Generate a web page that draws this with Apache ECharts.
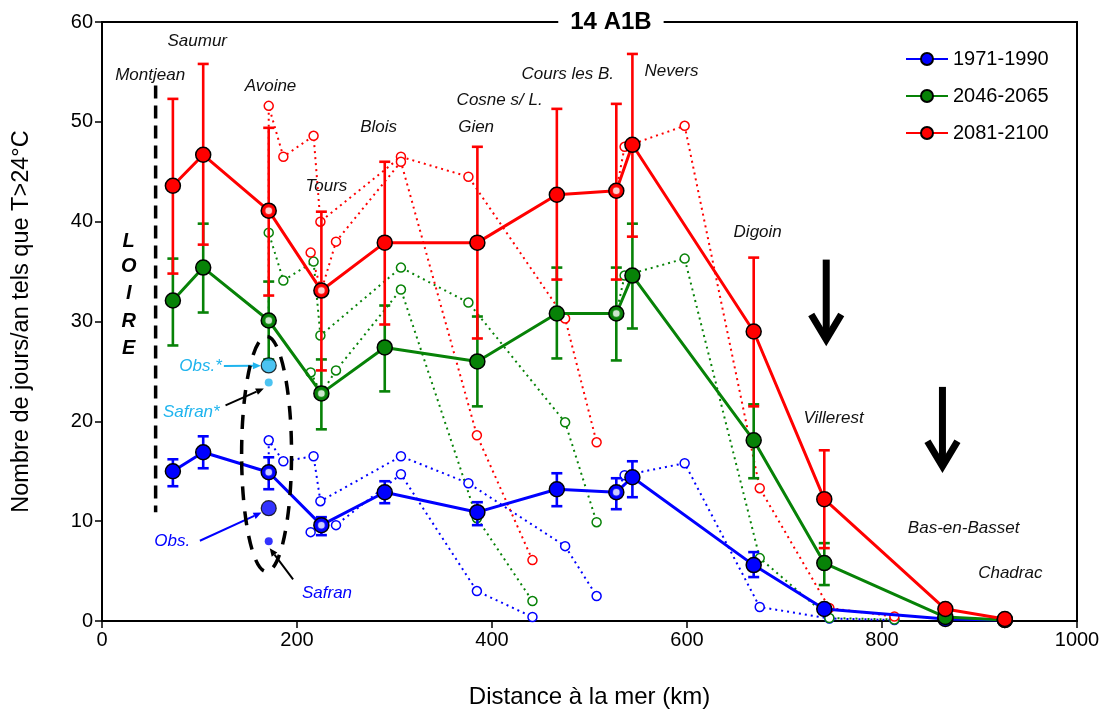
<!DOCTYPE html>
<html><head><meta charset="utf-8">
<script src="https://cdn.jsdelivr.net/npm/echarts@6/dist/echarts.min.js"></script>
<style>html,body{margin:0;padding:0;background:#fff}#c{width:1110px;height:715px}</style>
</head><body><div id="c"></div>
<script>
// ---- data ----
const stationNames = ['Montjean','Saumur','Avoine','Tours','Blois','Gien','Cours les B.','Cosne s/ L.','Nevers','Digoin','Villerest','Bas-en-Basset','Chadrac'];
const dist   = [72.7, 103.8, 171, 225, 290, 385, 466.5, 527.5, 544, 668.4, 740.8, 865, 926];
const blue   = [15.0, 16.9, 14.9, 9.6, 12.9, 10.9, 13.2, 12.9, 14.4, 5.6, 1.2, 0.2, 0.1];
const blueLo = [13.5, 15.3, 13.2, 8.6, 11.8, 9.6, 11.5, 11.2, 12.4, 4.4, null, null, null];
const blueHi = [16.2, 18.5, 16.4, 10.4, 14.0, 11.9, 14.8, 14.3, 16.0, 6.9, null, null, null];
const green   = [32.1, 35.4, 30.1, 22.8, 27.4, 26.0, 30.8, 30.8, 34.6, 18.1, 5.8, 0.4, 0.1];
const greenLo = [27.6, 30.9, 26.2, 19.2, 23.0, 21.5, 26.3, 26.1, 29.3, 14.3, 3.6, null, null];
const greenHi = [36.3, 39.8, 34.0, 26.2, 31.6, 30.5, 35.4, 35.4, 39.8, 21.7, 7.8, null, null];
const red   = [43.6, 46.7, 41.1, 33.1, 37.9, 37.9, 42.7, 43.1, 47.7, 29.0, 12.2, 1.2, 0.2];
const redLo = [34.8, 37.7, 32.6, 25.1, 29.7, 28.3, 34.2, 34.2, 38.5, 21.5, 7.3, null, null];
const redHi = [52.3, 55.8, 49.4, 41.0, 46.0, 47.5, 51.3, 51.8, 56.8, 36.4, 17.1, null, null];
const confluenceIdx = [2, 3, 7];

// tributary A (from Avoine)
const tribADist = [171, 186, 217, 224, 306.6, 375.8, 475, 507.3];
const tribABlue = [18.1, 16.0, 16.5, 12.0, 16.5, 13.8, 7.5, 2.5];
const tribAGreen = [38.9, 34.1, 36.0, 28.6, 35.4, 31.9, 19.9, 9.9];
const tribARed = [51.6, 46.5, 48.6, 40.0, 46.5, 44.5, 30.3, 17.9];
// tributary B (through Tours)
const tribBDistBefore = [214];
const tribBDistAfter = [240, 306.6, 384.5, 441.5];
const tribBBlue = [[8.9], [9.6, 14.7, 3.0, 0.4]];
const tribBGreen = [[24.9], [25.1, 33.2, 10.3, 2.0]];
const tribBRed = [[36.9], [38.0, 46.0, 18.6, 6.1]];
// tributary C (from km 527)
const tribCDist = [536, 597.6, 674.6, 746, 812.7];
const tribCBlue = [14.6, 15.8, 1.4, 0.25, 0.1];
const tribCGreen = [34.6, 36.3, 6.3, 0.3, 0.15];
const tribCRed = [47.5, 49.6, 13.3, 1.3, 0.45];

// observations at Avoine
const obsDist = 171;
const obsStar = 25.6, safranStar = 23.9, obsVal = 11.3, safranVal = 8.0;

const xTicks = [0, 200, 400, 600, 800, 1000];
const yTicks = [0, 10, 20, 30, 40, 50, 60];

// ---- styles ----
const C = {blue:'#0000ff', green:'#078207', red:'#ff0000', cyan:'#1fb4ee'};
const FONT = 'Liberation Sans';

const chart = echarts.init(document.getElementById('c'));

function mainSeries(name, vals, color){
  return {name, type:'line', data: dist.map((d,i)=>[d, vals[i]]), symbol:'circle', symbolSize:15,
    lineStyle:{color, width:3}, itemStyle:{color, borderColor:'#000', borderWidth:1.5}, z:5};
}
function errSeries(lo, hi, color){
  const data = dist.map((d,i)=> hi[i]==null? null : [d, lo[i], hi[i]]).filter(Boolean);
  return {type:'custom', data, z:4, silent:true,
    renderItem:function(params, api){
      const x = api.value(0), l = api.value(1), h = api.value(2);
      const a = api.coord([x,h]), b = api.coord([x,l]), w = 5.5;
      const st = {stroke:color, lineWidth:2.6};
      return {type:'group', children:[
        {type:'line', shape:{x1:a[0],y1:a[1],x2:b[0],y2:b[1]}, style:st},
        {type:'line', shape:{x1:a[0]-w,y1:a[1],x2:a[0]+w,y2:a[1]}, style:st},
        {type:'line', shape:{x1:b[0]-w,y1:b[1],x2:b[0]+w,y2:b[1]}, style:st}
      ]};
    }};
}
function tribSeries(points, color){
  return {type:'line', data: points, symbol:'circle', symbolSize:9, showSymbol:true,
    lineStyle:{color, width:2, type:[2,4]},
    itemStyle:{color:'#fff', borderColor:color, borderWidth:1.5}, z:2, silent:true};
}
function tribs(mainVals, A, B, Cc, color){
  const ptsA = [{value:[dist[2], mainVals[2]], symbol:'none'}].concat(tribADist.map((d,i)=>[d, A[i]]));
  const ptsB = tribBDistBefore.map((d,i)=>[d, B[0][i]])
    .concat([{value:[dist[3], mainVals[3]], symbol:'none'}])
    .concat(tribBDistAfter.map((d,i)=>[d, B[1][i]]));
  const ptsC = [{value:[dist[7], mainVals[7]], symbol:'none'}].concat(tribCDist.map((d,i)=>[d, Cc[i]]));
  return [tribSeries(ptsA,color), tribSeries(ptsB,color), tribSeries(ptsC,color)];
}
function ringSeries(vals, color){
  return {type:'scatter', data: confluenceIdx.map(i=>[dist[i], vals[i]]), symbol:'circle', symbolSize:8,
    itemStyle:{color:'#fff', borderColor:color, borderWidth:1.5}, z:6, silent:true};
}

const series = [].concat(
  tribs(blue, tribABlue, tribBBlue, tribCBlue, C.blue),
  tribs(green, tribAGreen, tribBGreen, tribCGreen, C.green),
  tribs(red, tribARed, tribBRed, tribCRed, C.red),
  [errSeries(blueLo, blueHi, C.blue), errSeries(greenLo, greenHi, C.green), errSeries(redLo, redHi, C.red)],
  [mainSeries('1971-1990', blue, C.blue), mainSeries('2046-2065', green, C.green), mainSeries('2081-2100', red, C.red)],
  [ringSeries(blue, C.blue), ringSeries(green, C.green), ringSeries(red, C.red)],
  [{type:'scatter', z:7, silent:true, data:[
     {value:[obsDist, obsStar], symbolSize:15, itemStyle:{color:C.cyan, borderColor:'#000', borderWidth:1.2}},
     {value:[obsDist, safranStar], symbolSize:8, itemStyle:{color:C.cyan}},
     {value:[obsDist, obsVal], symbolSize:15, itemStyle:{color:C.blue, borderColor:'#000', borderWidth:1.2}},
     {value:[obsDist, safranVal], symbolSize:8, itemStyle:{color:C.blue}}
  ]}]
);

function axisCommon(nameSize){ return {
  axisLine:{show:true, lineStyle:{color:'#000', width:2}},
  axisTick:{show:true, inside:false, length:7, lineStyle:{color:'#000', width:1.5}},
  splitLine:{show:false},
  axisLabel:{color:'#000', fontSize:20, fontFamily:FONT, margin:9, formatter:(v)=>String(v)},
  nameTextStyle:{color:'#000', fontSize:nameSize, fontFamily:FONT}
};}

chart.setOption({
  animation:false,
  backgroundColor:'#fff',
  grid:{left:102, right:33, top:22, bottom:94, show:true, borderColor:'#000', borderWidth:2, backgroundColor:'transparent'},
  xAxis: Object.assign({type:'value', min:xTicks[0], max:xTicks[xTicks.length-1], interval:200,
    name:'Distance à la mer (km)', nameLocation:'middle', nameGap:64}, axisCommon(24)),
  yAxis: Object.assign({type:'value', min:yTicks[0], max:yTicks[yTicks.length-1], interval:10,
    name:'Nombre de jours/an tels que T>24°C', nameLocation:'middle', nameGap:68}, axisCommon(23.5)),
  legend:{data:['1971-1990','2046-2065','2081-2100'], orient:'vertical', left:900, top:44,
    itemWidth:42, itemHeight:15, itemGap:17, textStyle:{fontSize:20, fontFamily:FONT, color:'#000'}, selectedMode:false},
  series
});

// ---- annotations positioned in data coordinates ----
const stationLabels = [
  ['Montjean', 49.4, 54.7], ['Saumur', 97.7, 58.1], ['Avoine', 172.8, 53.6], ['Tours', 230.1, 43.5],
  ['Blois', 283.7, 49.5], ['Cosne s/ L.', 407.8, 52.2], ['Gien', 383.7, 49.5], ['Cours les B.', 477.7, 54.8],
  ['Nevers', 584.1, 55.1], ['Digoin', 672.5, 38.9], ['Villerest', 750.3, 20.3], ['Bas-en-Basset', 883.7, 9.3],
  ['Chadrac', 931.6, 4.8]
];
const loireLetters = [['L', 27.4, 38.0], ['O', 27.4, 35.5], ['I', 27.4, 32.8], ['R', 27.4, 30.0], ['E', 27.4, 27.3]];
const obsLabels = [['Obs.*', 101.1, 25.5, C.cyan], ['Safran*', 91.6, 20.95, C.cyan], ['Obs.', 72.1, 7.94, C.blue], ['Safran', 230.8, 2.77, C.blue]];
const smallArrows = [
  [[125.0, 25.55], [163.0, 25.58], C.cyan],
  [[126.7, 21.6], [166.0, 23.3], '#000'],
  [[100.4, 8.04], [163.6, 10.86], C.blue],
  [[196.0, 4.17], [172.0, 7.28], '#000']
];
const bigArrows = [[742.8, 36.2, 27.8], [862, 23.45, 15.1]];
const loireLine = [55.0, 53.65, 10.9];
const ellipseBox = [143.2, 194.4, 28.5, 4.95];
const titlePos = [522, 60];

function px(p){ return chart.convertToPixel({gridIndex:0}, p); }
const g = [];
stationLabels.forEach(([t,x,y])=>{ const p=px([x,y]);
  g.push({type:'text', z:20, style:{text:t, x:p[0], y:p[1], align:'center', verticalAlign:'middle', fontSize:17, fontStyle:'italic', fontFamily:FONT, fill:'#111'}}); });
loireLetters.forEach(([t,x,y])=>{ const p=px([x,y]);
  g.push({type:'text', z:20, style:{text:t, x:p[0], y:p[1], align:'center', verticalAlign:'middle', fontSize:20, fontStyle:'italic', fontWeight:'bold', fontFamily:FONT, fill:'#000'}}); });
obsLabels.forEach(([t,x,y,c])=>{ const p=px([x,y]);
  g.push({type:'text', z:20, style:{text:t, x:p[0], y:p[1], align:'center', verticalAlign:'middle', fontSize:17, fontStyle:'italic', fontFamily:FONT, fill:c}}); });
smallArrows.forEach(([f,t,c])=>{
  const a=px(f), b=px(t); const dx=b[0]-a[0], dy=b[1]-a[1], L=Math.hypot(dx,dy), ux=dx/L, uy=dy/L;
  const hl=8, hw=3.5; const bx=b[0]-ux*hl, by=b[1]-uy*hl;
  g.push({type:'line', z:20, shape:{x1:a[0],y1:a[1],x2:bx,y2:by}, style:{stroke:c, lineWidth:2}});
  g.push({type:'polygon', z:20, shape:{points:[[b[0],b[1]],[bx-uy*hw,by+ux*hw],[bx+uy*hw,by-ux*hw]]}, style:{fill:c}});
});
bigArrows.forEach(([x,yt,yb])=>{
  const a=px([x,yt]), b=px([x,yb]);
  g.push({type:'line', z:20, shape:{x1:a[0],y1:a[1],x2:b[0],y2:b[1]-4}, style:{stroke:'#000', lineWidth:7}});
  g.push({type:'polyline', z:20, shape:{points:[[b[0]-15,b[1]-29],[b[0],b[1]-4],[b[0]+15,b[1]-29]]}, style:{stroke:'#000', lineWidth:7, fill:null, lineJoin:'miter'}});
});
(function(){
  const a=px([loireLine[0], loireLine[1]]), b=px([loireLine[0], loireLine[2]]);
  g.push({type:'line', z:20, shape:{x1:a[0],y1:a[1],x2:b[0],y2:b[1]}, style:{stroke:'#000', lineWidth:3.5, lineDash:[13,7]}});
  const tl=px([ellipseBox[0], ellipseBox[2]]), br=px([ellipseBox[1], ellipseBox[3]]);
  g.push({type:'ellipse', z:20, shape:{cx:(tl[0]+br[0])/2, cy:(tl[1]+br[1])/2, rx:(br[0]-tl[0])/2, ry:(br[1]-tl[1])/2},
    style:{stroke:'#000', lineWidth:3.5, lineDash:[14,11], fill:null}});
  const p = px(titlePos);
  g.push({type:'text', z:30, style:{text:'14 A1B', x:p[0], y:p[1], align:'center', verticalAlign:'middle', fontSize:24, fontWeight:'bold', fontFamily:FONT, fill:'#000', backgroundColor:'#fff', padding:[2,12]}});
})();
chart.setOption({graphic:g});
</script>
</body></html>
